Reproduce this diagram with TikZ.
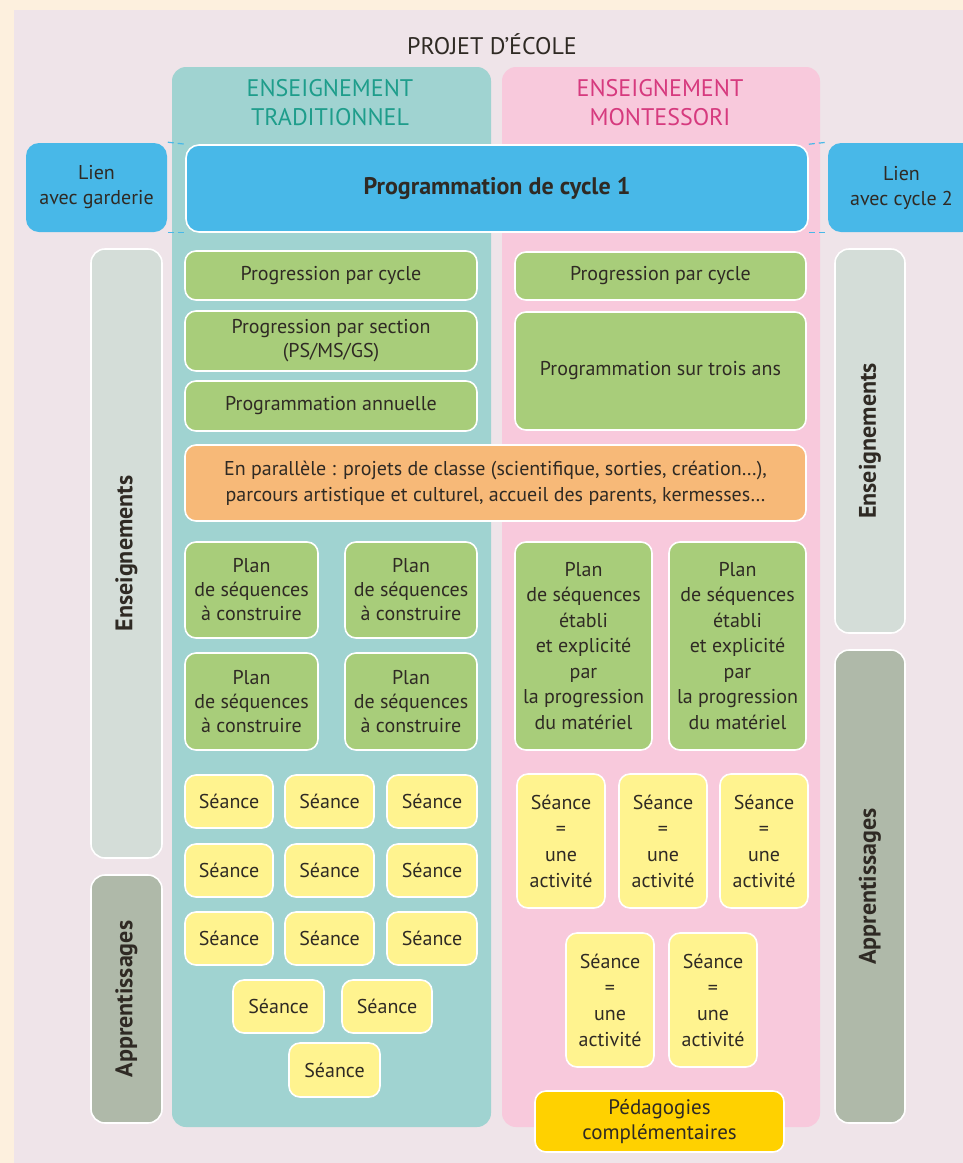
\documentclass[tikz,border=0pt]{standalone}
\usepackage{fontspec}
\setmainfont{PT Sans}
\definecolor{cream}{HTML}{FDF0DE}
\definecolor{panel}{HTML}{EFE4E9}
\definecolor{tealcol}{HTML}{A0D3D1}
\definecolor{pinkcol}{HTML}{F8C9DC}
\definecolor{tealtxt}{HTML}{1E9D8B}
\definecolor{pinktxt}{HTML}{D63A7E}
\definecolor{bluebx}{HTML}{48B8E8}
\definecolor{grn}{HTML}{A8CD7A}
\definecolor{orng}{HTML}{F7B978}
\definecolor{ylw}{HTML}{FFF38F}
\definecolor{gold}{HTML}{FFD100}
\definecolor{barlight}{HTML}{D4DDD8}
\definecolor{bardark}{HTML}{AFB9A9}
\definecolor{txt}{HTML}{2F2A24}
\newcommand\fs[2]{\fontsize{#1}{#2}\selectfont}
\newcommand\bx[7]{\node[#2, minimum width={(#5-#3)*1pt}, minimum height={(#6-#4)*1pt}] (#1) at ({(#3+#5)/2},{(#4+#6)/2}) {#7};}
\tikzset{
  box/.style={draw=white, line width=1.6pt, rounded corners=11pt, inner sep=0pt, align=center, text=txt, font=\fs{20}{24}},
  gbox/.style={box, fill=grn},
  obox/.style={box, fill=orng, font=\fs{20}{26}},
  ybox/.style={box, fill=ylw},
  yact/.style={box, fill=ylw, font=\fs{20}{26}},
  gplan/.style={gbox, font=\fs{20}{24}},
  gplanr/.style={gbox, font=\fs{20}{25.5}},
  bbox/.style={box, fill=bluebx, rounded corners=13pt},
  bar/.style={box, rounded corners=14pt},
  col/.style={rounded corners=14pt, inner sep=0pt},
  vlabel/.style={rotate=90, text=txt, font=\bfseries\fs{24}{28}},
  head/.style={align=center, font=\fs{24}{29}},
  link/.style={draw=bluebx, line width=1.2pt, dash pattern=on 6pt off 4pt}
}
\begin{document}
\begin{tikzpicture}[x=1pt, y=-1pt]
\useasboundingbox (0,0) rectangle (963,1163);
\fill[cream] (0,0) rectangle (963,1163);
\fill[panel] (14,10) rectangle (963,1163);
\node[text=txt, font=\fs{24}{28}] (title) at (492,44) {PROJET D’ÉCOLE};
% columns
\bx{trad}{col, fill=tealcol}{172}{67}{491}{1127}{}
\bx{mont}{col, fill=pinkcol}{502}{67}{820}{1127}{}
\node[head, text=tealtxt] (htrad) at (330,103) {ENSEIGNEMENT\\TRADITIONNEL};
\node[head, text=pinktxt] (hmont) at (660,103) {ENSEIGNEMENT\\MONTESSORI};
% side bars
\bx{ensL}{bar, fill=barlight}{91}{249}{162}{858}{}
\bx{appL}{bar, fill=bardark}{91}{875}{162}{1123}{}
\bx{ensR}{bar, fill=barlight}{835}{249}{905}{633}{}
\bx{appR}{bar, fill=bardark}{835}{650}{905}{1123}{}
\node[vlabel] (lensL) at (ensL.center) {Enseignements};
\node[vlabel] (lappL) at (appL.center) {Apprentissages};
\node[vlabel] (lensR) at (ensR.center) {Enseignements};
\node[vlabel] (lappR) at (appR.center) {Apprentissages};
% blue band
\bx{lienG}{bbox, draw=none, font=\fs{20}{25}}{26}{143}{167}{232}{Lien\\avec garderie}
\bx{lienD}{bbox, draw=none, font=\fs{20}{25}}{828}{143}{975}{232}{Lien\\avec cycle 2}
\bx{prog}{bbox, font=\bfseries\fs{24}{28}}{186}{145}{808}{232}{Programmation de cycle 1}
\draw[link] (lienG.north east) -- (prog.north west);
\draw[link] (lienG.south east) -- (prog.south west);
\draw[link] (prog.north east) -- (lienD.north west);
\draw[link] (prog.south east) -- (lienD.south west);
% green boxes left
\bx{pcL}{gbox}{185}{251}{477}{300}{Progression par cycle}
\bx{psL}{gbox}{185}{311}{477}{371}{Progression par section\\(PS/MS/GS)}
\bx{paL}{gbox}{185}{381}{477}{431}{Programmation annuelle}
% green boxes right
\bx{pcR}{gbox}{515}{252}{806}{300}{Progression par cycle}
\bx{ptR}{gbox}{515}{312}{806}{430}{Programmation sur trois ans}
% orange
\bx{para}{obox}{185}{445}{806}{521}{En parallèle : projets de classe (scientifique, sorties, création…),\\parcours artistique et culturel, accueil des parents, kermesses…}
% plans left
\bx{pl1}{gplan}{185}{542}{318}{638}{Plan\\de séquences\\à construire}
\bx{pl2}{gplan}{345}{542}{477}{638}{Plan\\de séquences\\à construire}
\bx{pl3}{gplan}{185}{653}{318}{750}{Plan\\de séquences\\à construire}
\bx{pl4}{gplan}{345}{653}{477}{750}{Plan\\de séquences\\à construire}
% plans right
\bx{pr1}{gplanr}{515}{542}{652}{750}{Plan\\de séquences\\établi\\et explicité\\par\\la progression\\du matériel}
\bx{pr2}{gplanr}{669}{542}{806}{750}{Plan\\de séquences\\établi\\et explicité\\par\\la progression\\du matériel}
% seances left
\bx{s11}{ybox}{185}{775}{273}{828}{Séance}
\bx{s12}{ybox}{285}{775}{374}{828}{Séance}
\bx{s13}{ybox}{387}{775}{477}{828}{Séance}
\bx{s21}{ybox}{185}{844}{273}{897}{Séance}
\bx{s22}{ybox}{285}{844}{374}{897}{Séance}
\bx{s23}{ybox}{387}{844}{477}{897}{Séance}
\bx{s31}{ybox}{185}{912}{273}{965}{Séance}
\bx{s32}{ybox}{285}{912}{374}{965}{Séance}
\bx{s33}{ybox}{387}{912}{477}{965}{Séance}
\bx{s41}{ybox}{233}{980}{324}{1033}{Séance}
\bx{s42}{ybox}{342}{980}{432}{1033}{Séance}
\bx{s51}{ybox}{289}{1043}{380}{1097}{Séance}
% seances right
\bx{a11}{yact}{517}{774}{605}{908}{Séance\\=\\une\\activité}
\bx{a12}{yact}{619}{774}{707}{908}{Séance\\=\\une\\activité}
\bx{a13}{yact}{720}{774}{808}{908}{Séance\\=\\une\\activité}
\bx{a21}{yact}{566}{933}{654}{1067}{Séance\\=\\une\\activité}
\bx{a22}{yact}{669}{933}{757}{1067}{Séance\\=\\une\\activité}
% pedagogies
\bx{peda}{box, fill=gold, font=\fs{21}{25}}{535}{1091}{784}{1152}{Pédagogies\\complémentaires}
\end{tikzpicture}
\end{document}
